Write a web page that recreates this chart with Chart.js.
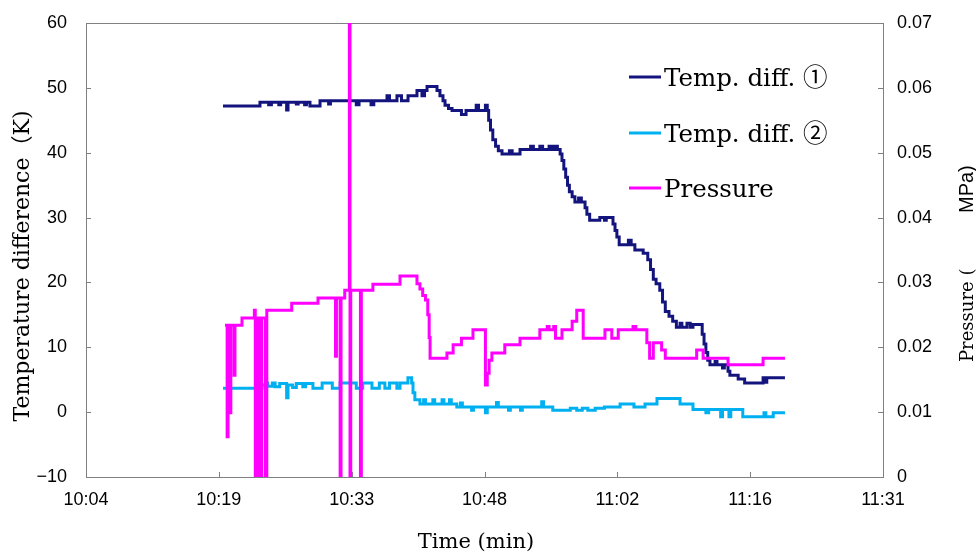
<!DOCTYPE html>
<html>
<head>
<meta charset="utf-8">
<script src="https://cdn.jsdelivr.net/npm/chart.js@4.4.1/dist/chart.umd.min.js"></script>
<style>
  html, body { margin: 0; padding: 0; background: #fff; }
  #wrap { width: 976px; height: 553px; }
</style>
</head>
<body>
<div id="wrap"><canvas id="chart" width="976" height="553"></canvas></div>
<script>
// x values are minutes after 10:00 (10:04:48 .. 11:31:12, Excel major unit 0.01 day)
const timeTicks  = [4.8, 19.2, 33.6, 48, 62.4, 76.8, 91.2];
const timeLabels = ['10:04', '10:19', '10:33', '10:48', '11:02', '11:16', '11:31'];
const tempTicks  = [-10, 0, 10, 20, 30, 40, 50, 60];
const pressTicks = [0, 0.01, 0.02, 0.03, 0.04, 0.05, 0.06, 0.07];
const seriesNames = ['Temp. diff. ①', 'Temp. diff. ②', 'Pressure'];

// [minute, K] - value changes (step points)
const tempDiff1 = [
  [19.65,47.2],[23.66,47.8],[24.6,47.4],[24.9,47.8],[25.7,47.4],[25.9,47.8],[26.55,46.6],[26.7,47.8],
  [27.6,47.5],[27.8,47.8],[28.5,47.4],[28.7,47.8],[29.08,47.2],[30.17,48.0],[31.1,47.5],[31.3,48.0],
  [34.1,47.4],[34.4,48.0],[35.7,47.4],[36.0,48.0],[37.43,48.8],[37.7,48.0],[38.51,48.8],[39.0,48.0],
  [39.71,48.8],[40.68,49.6],[41.22,48.8],[41.5,49.6],[41.77,50.2],[42.85,49.6],[43.17,48.8],[43.5,48.0],
  [43.72,47.3],[44.1,46.8],[44.48,46.5],[45.5,45.9],[46.0,46.5],[47.1,47.3],[47.35,46.5],[48.1,47.3],
  [48.3,46.5],[48.45,45.0],[48.65,43.5],[48.9,42.0],[49.2,41.0],[49.5,40.3],[49.9,39.8],[50.7,40.3],
  [51.0,39.8],[51.85,40.5],[53.0,41.0],[53.3,40.5],[54.0,41.0],[54.3,40.5],[55.0,41.0],[55.3,40.5],
  [55.6,41.0],[55.9,40.5],[56.2,39.8],[56.4,38.8],[56.6,37.5],[56.8,36.2],[57.0,35.0],[57.2,34.0],
  [57.5,33.2],[57.8,32.4],[58.2,33.0],[58.5,32.4],[58.9,31.5],[59.1,30.5],[59.4,29.6],[60.5,30.0],
  [61.0,29.6],[61.2,30.0],[61.93,29.0],[62.15,28.0],[62.35,27.0],[62.6,25.8],[63.6,26.5],[63.9,25.8],
  [64.3,25.0],[65.2,24.5],[65.7,23.5],[66.0,22.0],[66.3,20.5],[66.6,19.8],[67.0,18.8],[67.3,17.0],
  [67.6,15.5],[68.0,14.8],[68.4,14.0],[68.8,13.1],[69.2,13.7],[69.4,13.1],[69.95,13.7],[70.3,13.1],
  [70.6,13.5],[71.3,13.5],[71.6,12.0],[71.8,10.5],[72.0,9.2],[72.2,8.0],[72.44,7.3],[73.0,7.8],
  [73.2,7.3],[73.8,6.8],[74.0,7.3],[74.4,6.3],[74.6,5.7],[75.5,5.1],[76.2,4.5],[78.2,5.3],
  [78.4,4.6],[78.6,5.3],[80.57,5.3]
];

const tempDiff2 = [
  [19.65,3.7],[23.88,4.2],[24.3,4.5],[24.5,4.0],[25.0,4.5],[25.3,3.9],[25.8,4.4],[26.55,2.2],
  [26.7,4.2],[27.2,3.8],[27.6,4.4],[28.3,3.9],[28.6,4.4],[29.4,3.7],[30.4,4.5],[31.5,3.7],
  [32.35,4.5],[34.1,3.7],[34.8,4.5],[35.8,3.7],[36.6,4.5],[37.2,3.7],[37.7,4.5],[38.5,3.7],
  [38.84,4.5],[39.7,5.3],[40.1,4.5],[40.25,3.0],[40.45,1.9],[41.0,1.25],[41.4,1.9],[41.6,1.25],
  [42.4,1.9],[42.6,1.25],[43.4,1.9],[43.6,1.25],[44.2,1.9],[44.4,1.25],[45.0,0.8],[45.4,1.4],
  [45.6,0.8],[46.6,0.3],[46.8,0.8],[48.1,-0.1],[48.3,0.8],[49.3,1.5],[49.5,0.8],[50.6,0.3],
  [50.8,0.8],[51.9,0.3],[52.1,0.8],[54.2,1.6],[54.4,0.8],[55.4,0.3],[57.3,0.6],[58.0,0.3],
  [58.6,0.6],[59.2,0.3],[60.0,0.6],[61.0,0.8],[62.7,1.25],[64.2,0.8],[65.4,1.25],[66.7,2.1],
  [69.2,1.25],[70.6,0.4],[72.0,-0.1],[72.3,0.4],[73.6,-0.7],[73.8,0.4],[74.5,-0.7],[74.7,0.4],
  [76.0,-0.7],[78.3,-0.1],[78.5,-0.7],[79.3,-0.1],[80.57,-0.1]
];

// [minute, MPa]
const pressure = [
  [19.87,0.0234],[20.1,0.0062],[20.2,0.0234],[20.4,0.0099],[20.5,0.0234],[20.85,0.0157],[20.95,0.0234],
  [21.71,0.0245],[23.05,0.0257],[23.15,0],[23.35,0.0245],[23.45,0],[23.6,0.0245],[23.7,0],[23.85,0.0245],
  [24.25,0],[24.4,0.0257],[27.1,0.0268],[29.95,0.0276],[31.85,0.0186],[31.95,0.0276],[32.35,0],
  [32.45,0.0276],[32.85,0.0288],[33.35,0.08],[33.42,0],[33.5,0.0288],[34.55,0],[34.65,0.0288],
  [35.9,0.0297],[38.84,0.0310],[40.68,0.0298],[41.0,0.0290],[41.3,0.0280],[41.6,0.0273],[41.85,0.0250],
  [42.0,0.0215],[42.1,0.0183],[43.93,0.0191],[44.6,0.0204],[45.5,0.0214],[46.75,0.0227],[48.1,0.0142],
  [48.3,0.0160],[48.5,0.0180],[48.8,0.0191],[50.2,0.0204],[51.85,0.0214],[54.0,0.0227],[54.8,0.0232],
  [55.0,0.0227],[55.5,0.0232],[55.7,0.0214],[56.4,0.0227],[57.5,0.0240],[58.0,0.0257],[58.7,0.0214],
  [61.06,0.0227],[61.8,0.0214],[62.5,0.0227],[64.1,0.0232],[64.4,0.0227],[65.6,0.0207],[65.9,0.0183],
  [66.3,0.0207],[67.2,0.0196],[67.6,0.0183],[71.0,0.0196],[71.7,0.0183],[74.4,0.0173],[78.2,0.0183],
  [80.57,0.0183]
];

const colors = ['#14147e', '#00b0f0', '#ff00ff'];
const toXY = arr => arr.map(p => ({ x: p[0], y: p[1] }));

const frameColor = '#808080';
const serif = "'DejaVu Serif', 'Noto Sans CJK JP', serif";
const sans = "'Liberation Sans', Arial, sans-serif";

// frame, inner tick marks, axis titles, legend
const decor = {
  id: 'decor',
  beforeDatasetsDraw(chart) {
    const { ctx, chartArea: a, scales } = chart;
    ctx.save();
    ctx.strokeStyle = frameColor;
    ctx.lineWidth = 1;
    ctx.strokeRect(Math.round(a.left) + 0.5, Math.round(a.top) + 0.5,
                   Math.round(a.right - a.left), Math.round(a.bottom - a.top));
    ctx.beginPath();
    tempTicks.forEach(v => {
      const y = Math.round(scales.y.getPixelForValue(v)) + 0.5;
      ctx.moveTo(a.left, y); ctx.lineTo(a.left + 5, y);
    });
    pressTicks.forEach(v => {
      const y = Math.round(scales.y2.getPixelForValue(v)) + 0.5;
      ctx.moveTo(a.right, y); ctx.lineTo(a.right - 5, y);
    });
    timeTicks.forEach(v => {
      const x = Math.round(scales.x.getPixelForValue(v)) + 0.5;
      ctx.moveTo(x, a.bottom); ctx.lineTo(x, a.bottom - 5);
    });
    ctx.stroke();
    ctx.restore();
  },
  afterDraw(chart) {
    const { ctx } = chart;
    ctx.save();
    ctx.fillStyle = '#000';
    ctx.textBaseline = 'alphabetic';

    // axis titles
    ctx.font = '21px ' + serif;
    ctx.textAlign = 'center';
    ctx.fillText('Time (min)', 476, 548);

    ctx.save();
    ctx.font = '22px ' + serif;
    ctx.translate(29, 266);
    ctx.rotate(-Math.PI / 2);
    ctx.fillText('Temperature difference（K)', 0, 0);
    ctx.restore();

    // right title: local x = -screenY after rotation
    ctx.save();
    ctx.translate(973, 0);
    ctx.rotate(-Math.PI / 2);
    ctx.textAlign = 'left';
    ctx.font = '18px ' + serif;
    ctx.fillText('Pressure (', -362, 0);
    ctx.font = '20px ' + sans;
    ctx.fillText('MPa)', -213, 0);
    ctx.restore();

    // legend
    const rows = [77, 133, 188];
    ctx.font = '24.5px ' + serif;
    ctx.textAlign = 'left';
    seriesNames.forEach((name, i) => {
      ctx.strokeStyle = colors[i];
      ctx.lineWidth = 3;
      ctx.beginPath();
      ctx.moveTo(629, rows[i]);
      ctx.lineTo(661, rows[i]);
      ctx.stroke();
      ctx.fillText(name, 664, rows[i] + 9);
    });
    ctx.restore();
  }
};

const lineStyle = { borderWidth: 3, pointRadius: 0, stepped: true, fill: false };

// fixed axis box sizes so the plot area sits at 86..883 x 23..477
const fixY = w => s => { s.width = w; s.paddingTop = 0; s.paddingBottom = 0; };

new Chart(document.getElementById('chart'), {
  type: 'line',
  data: {
    datasets: [
      { label: seriesNames[0], data: toXY(tempDiff1), borderColor: colors[0], yAxisID: 'y', order: 3, ...lineStyle },
      { label: seriesNames[1], data: toXY(tempDiff2), borderColor: colors[1], yAxisID: 'y', order: 2, ...lineStyle },
      { label: seriesNames[2], data: toXY(pressure), borderColor: colors[2], yAxisID: 'y2', order: 1, ...lineStyle }
    ]
  },
  options: {
    responsive: false,
    animation: false,
    layout: { padding: { top: 23, left: 0, right: 0, bottom: 0 } },
    plugins: { legend: { display: false }, tooltip: { enabled: false } },
    scales: {
      x: {
        type: 'linear',
        position: 'bottom',
        min: timeTicks[0],
        max: timeTicks[timeTicks.length - 1],
        afterBuildTicks: s => { s.ticks = timeTicks.map(v => ({ value: v })); },
        afterFit: s => { s.height = 76; s.paddingLeft = 0; s.paddingRight = 0; },
        grid: { display: false, drawTicks: false },
        border: { display: false },
        ticks: {
          autoSkip: false, maxRotation: 0, padding: 12,
          color: '#000', font: { family: sans, size: 18 },
          callback: (v, i) => timeLabels[i]
        }
      },
      y: {
        position: 'left',
        min: tempTicks[0],
        max: tempTicks[tempTicks.length - 1],
        afterBuildTicks: s => { s.ticks = tempTicks.map(v => ({ value: v })); },
        afterFit: fixY(86),
        grid: { display: false, drawTicks: false },
        border: { display: false },
        ticks: {
          padding: 19, color: '#000', font: { family: sans, size: 18 },
          callback: v => (v < 0 ? '\u221210' : String(v))
        }
      },
      y2: {
        position: 'right',
        min: pressTicks[0],
        max: pressTicks[pressTicks.length - 1],
        afterBuildTicks: s => { s.ticks = pressTicks.map(v => ({ value: v })); },
        afterFit: fixY(93),
        grid: { display: false, drawTicks: false },
        border: { display: false },
        ticks: {
          padding: 14, color: '#000', font: { family: sans, size: 18 },
          callback: v => (v === 0 ? '0' : v.toFixed(2))
        }
      }
    }
  },
  plugins: [decor]
});
</script>
</body>
</html>
